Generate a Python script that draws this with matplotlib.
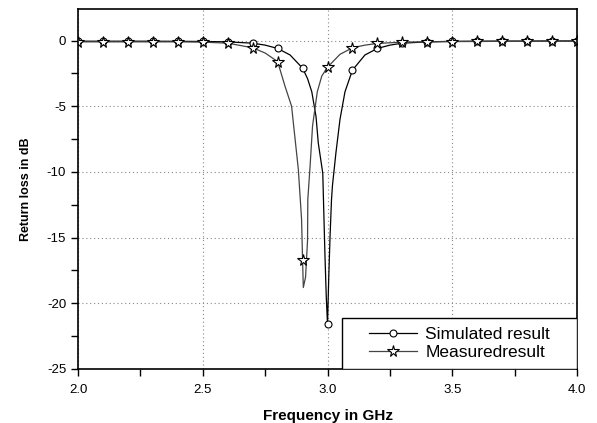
import numpy as np
import matplotlib
matplotlib.use("Agg")
import matplotlib.pyplot as plt
from matplotlib.ticker import MultipleLocator
from matplotlib.patches import Rectangle

plt.rcParams['font.family'] = ['Liberation Sans', 'DejaVu Sans']
plt.rcParams['axes.unicode_minus'] = False

# simulated return loss (GHz, dB)
sim_f = [2.0, 2.1, 2.2, 2.3, 2.4, 2.5, 2.6, 2.7, 2.75, 2.8, 2.85, 2.9, 2.92,
         2.937, 2.954, 2.963, 2.981, 2.985, 2.99, 2.995, 3.0, 3.005, 3.01,
         3.016, 3.02, 3.034, 3.05, 3.07, 3.1, 3.15, 3.2, 3.25, 3.3, 3.4, 3.5,
         3.6, 3.7, 3.8, 3.9, 4.0]
sim_db = [-0.05, -0.05, -0.05, -0.05, -0.06, -0.07, -0.1, -0.2, -0.35, -0.6,
          -1.1, -2.1, -2.9, -3.9, -5.8, -7.8, -10.1, -13.0, -16.5, -19.5,
          -21.6, -18.0, -15.0, -12.1, -11.0, -8.5, -6.0, -3.9, -2.25, -1.1,
          -0.6, -0.35, -0.2, -0.1, -0.06, -0.05, -0.04, -0.04, -0.03, -0.03]

# measured return loss
meas_f = [2.0, 2.1, 2.2, 2.3, 2.4, 2.5, 2.6, 2.7, 2.75, 2.8, 2.83, 2.856,
          2.87, 2.883, 2.896, 2.9, 2.903, 2.912, 2.92, 2.921, 2.93, 2.94,
          2.959, 2.977, 3.0, 3.05, 3.1, 3.15, 3.2, 3.3, 3.4, 3.5, 3.6, 3.7,
          3.8, 3.9, 4.0]
meas_db = [-0.1, -0.1, -0.1, -0.1, -0.1, -0.12, -0.2, -0.55, -0.95, -1.6,
           -3.5, -5.0, -7.5, -9.8, -13.6, -16.7, -18.8, -18.0, -15.2, -12.1,
           -9.6, -6.5, -3.9, -2.7, -2.03, -1.05, -0.55, -0.35, -0.22, -0.12,
           -0.1, -0.08, -0.07, -0.06, -0.06, -0.05, -0.05]

mark_f = np.round(np.arange(2.0, 4.01, 0.1), 2)


def mark_idx(f):
    f = np.asarray(f)
    return [i for i, v in enumerate(f) if np.any(np.isclose(v, mark_f))]


fig = plt.figure(figsize=(5.97, 4.23), dpi=100)
ax = fig.add_axes([0.1307, 0.1277, 0.8358, 0.851])

ax.plot(sim_f, sim_db, color='black', lw=0.9, marker='o', ms=5,
        mfc='white', mec='black', mew=0.8, markevery=mark_idx(sim_f),
        label='Simulated result')
ax.plot(meas_f, meas_db, color='#444444', lw=0.9, marker='*', ms=8.5,
        mfc='white', mec='black', mew=0.8, markevery=mark_idx(meas_f),
        label='Measuredresult')

ax.set_xlim(2.0, 4.0)
ax.set_ylim(-25, 2.4)
ax.xaxis.set_major_locator(MultipleLocator(0.5))
ax.xaxis.set_minor_locator(MultipleLocator(0.25))
ax.yaxis.set_major_locator(MultipleLocator(5))
ax.yaxis.set_minor_locator(MultipleLocator(2.5))
ax.set_xticklabels([f'{v:.1f}' for v in ax.get_xticks()])

ax.grid(True, which='major', linestyle=(0, (1, 2.5)), color='#888888', lw=0.8)
ax.tick_params(which='both', direction='out', top=False, right=False,
               labelsize=9.5, width=1, length=5)
ax.tick_params(axis='x', pad=6)
for s in ax.spines.values():
    s.set_linewidth(1.2)

ax.set_xlabel('Frequency in GHz', fontsize=11, fontweight='bold', labelpad=9)
ax.set_ylabel('Return loss in dB', fontsize=9, fontweight='bold', labelpad=11)

# legend box sits in the lower right corner
box = Rectangle((0.529, 0.0), 0.471, 0.142, transform=ax.transAxes,
                fill=True, facecolor='white', edgecolor='black', lw=1.0,
                zorder=4)
ax.add_patch(box)
leg = ax.legend(loc='center', bbox_to_anchor=(0.7645, 0.071), fontsize=12.5,
                frameon=False, handlelength=2.75, handletextpad=0.5,
                labelspacing=0.15, borderpad=0.0)
leg.set_zorder(5)

fig.savefig('out.png', dpi=100)
